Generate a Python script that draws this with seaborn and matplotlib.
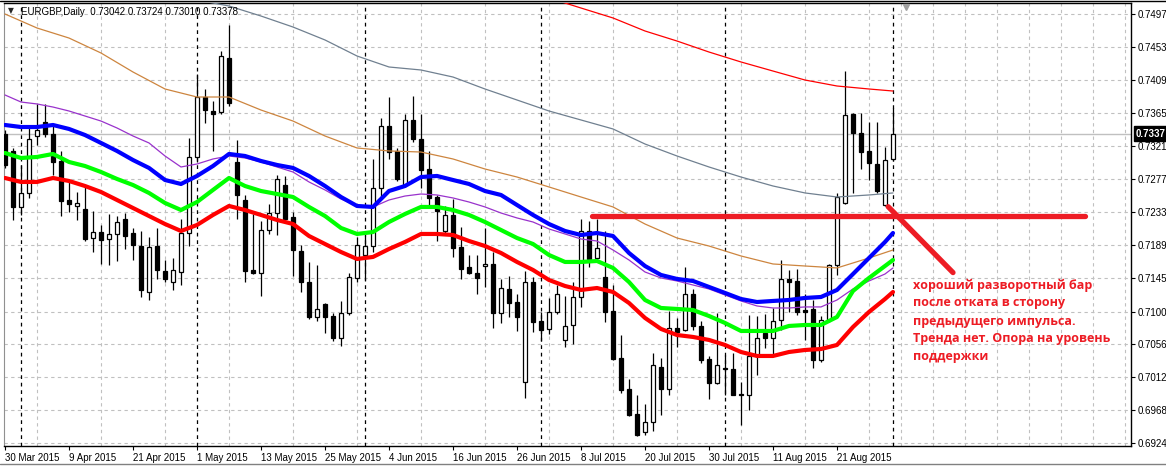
import numpy as np
import pandas as pd
import matplotlib
matplotlib.use("Agg")
import matplotlib.pyplot as plt
import matplotlib.transforms as mtransforms
from matplotlib.lines import Line2D
import seaborn as sns

sns.set_style("white")
plt.rcParams["font.family"] = ["Liberation Sans", "DejaVu Sans"]

# ---------------- data ----------------
symbol_title = "EURGBP,Daily  0.73042 0.73724 0.73010 0.73378"
dates = pd.bdate_range("2015-03-30", periods=112)

opens = [0.7337, 0.7314, 0.7240, 0.7259, 0.7334, 0.7353, 0.7337, 0.7301, 0.7249, 0.7241,
         0.7237, 0.7198, 0.7206, 0.7197, 0.7203, 0.7224, 0.7205, 0.7188, 0.7126, 0.7188,
         0.7154, 0.7139, 0.7153, 0.7205, 0.7306, 0.7386, 0.7368, 0.7366, 0.7439, 0.7300,
         0.7249, 0.7156, 0.7152, 0.7209, 0.7231, 0.7269, 0.7226, 0.7181, 0.7139, 0.7092,
         0.7110, 0.7094, 0.7065, 0.7098, 0.7145, 0.7176, 0.7188, 0.7265, 0.7348, 0.7314,
         0.7269, 0.7356, 0.7331, 0.7290, 0.7253, 0.7208, 0.7229, 0.7186, 0.7159, 0.7152,
         0.7161, 0.7164, 0.7098, 0.7130, 0.7113, 0.7006, 0.7140, 0.7087, 0.7077, 0.7099,
         0.7062, 0.7082, 0.7119, 0.7208, 0.7172, 0.7146, 0.7101, 0.7038, 0.6996, 0.6963,
         0.6939, 0.6952, 0.7026, 0.6997, 0.7078, 0.7075, 0.7124, 0.7081, 0.7037, 0.7005,
         0.7025, 0.7023, 0.6990, 0.6988, 0.7042, 0.7071, 0.7064, 0.7089, 0.7144, 0.7141,
         0.7102, 0.7103, 0.7035, 0.7089, 0.7162, 0.7245, 0.7364, 0.7339, 0.7314, 0.7297,
         0.7242, 0.73042]
highs = [0.7343, 0.7319, 0.7296, 0.7349, 0.7377, 0.7377, 0.7349, 0.7314, 0.7273, 0.7260,
         0.7269, 0.7234, 0.7216, 0.7230, 0.7228, 0.7231, 0.7211, 0.7207, 0.7199, 0.7211,
         0.7169, 0.7171, 0.7224, 0.7332, 0.7418, 0.7397, 0.7381, 0.7448, 0.7483, 0.7329,
         0.7256, 0.7230, 0.7221, 0.7243, 0.7282, 0.7281, 0.7233, 0.7189, 0.7166, 0.7162,
         0.7111, 0.7098, 0.7114, 0.7152, 0.7200, 0.7202, 0.7304, 0.7358, 0.7386, 0.7319,
         0.7364, 0.7388, 0.7364, 0.7314, 0.7255, 0.7241, 0.7250, 0.7213, 0.7176, 0.7175,
         0.7211, 0.7180, 0.7143, 0.7147, 0.7124, 0.7154, 0.7146, 0.7099, 0.7118, 0.7135,
         0.7121, 0.7140, 0.7224, 0.7221, 0.7224, 0.7207, 0.7136, 0.7068, 0.7010, 0.6989,
         0.6977, 0.7044, 0.7038, 0.7101, 0.7091, 0.7159, 0.7130, 0.7087, 0.7040, 0.7098,
         0.7042, 0.7044, 0.7006, 0.7095, 0.7094, 0.7097, 0.7105, 0.7169, 0.7156, 0.7157,
         0.7123, 0.7115, 0.7094, 0.7164, 0.7258, 0.7421, 0.7365, 0.7365, 0.7353, 0.7353,
         0.7320, 0.73724]
lows = [0.7292, 0.7222, 0.7229, 0.7251, 0.7323, 0.7333, 0.7282, 0.7227, 0.7233, 0.7222,
        0.7194, 0.7180, 0.7164, 0.7162, 0.7168, 0.7184, 0.7169, 0.7120, 0.7115, 0.7144,
        0.7140, 0.7129, 0.7135, 0.7187, 0.7300, 0.7352, 0.7314, 0.7364, 0.7374, 0.7224,
        0.7140, 0.7150, 0.7121, 0.7203, 0.7202, 0.7220, 0.7148, 0.7126, 0.7090, 0.7087,
        0.7071, 0.7060, 0.7054, 0.7095, 0.7140, 0.7142, 0.7179, 0.7251, 0.7304, 0.7274,
        0.7267, 0.7327, 0.7265, 0.7240, 0.7194, 0.7202, 0.7173, 0.7144, 0.7150, 0.7124,
        0.7133, 0.7078, 0.7084, 0.7093, 0.7074, 0.6985, 0.7072, 0.7061, 0.7070, 0.7096,
        0.7053, 0.7056, 0.7106, 0.7160, 0.7169, 0.7086, 0.7035, 0.6991, 0.6960, 0.6934,
        0.6935, 0.6940, 0.6962, 0.6988, 0.7052, 0.7074, 0.7075, 0.7031, 0.6983, 0.7003,
        0.6989, 0.6988, 0.6949, 0.6968, 0.7015, 0.7051, 0.7042, 0.7075, 0.7100, 0.7095,
        0.7062, 0.7025, 0.7033, 0.7086, 0.7149, 0.7244, 0.7258, 0.7290, 0.7276, 0.7258,
        0.7241, 0.73010]
closes = [0.7296, 0.7240, 0.7259, 0.7331, 0.7343, 0.7337, 0.7300, 0.7248, 0.7243, 0.7245,
          0.7197, 0.7206, 0.7196, 0.7203, 0.7219, 0.7201, 0.7189, 0.7129, 0.7186, 0.7155,
          0.7144, 0.7155, 0.7205, 0.7306, 0.7387, 0.7369, 0.7364, 0.7441, 0.7378, 0.7256,
          0.7154, 0.7151, 0.7209, 0.7231, 0.7277, 0.7224, 0.7182, 0.7139, 0.7092, 0.7104,
          0.7093, 0.7065, 0.7098, 0.7146, 0.7189, 0.7188, 0.7265, 0.7348, 0.7313, 0.7277,
          0.7356, 0.7331, 0.7289, 0.7252, 0.7234, 0.7229, 0.7185, 0.7157, 0.7151, 0.7145,
          0.7164, 0.7098, 0.7131, 0.7112, 0.7093, 0.7139, 0.7086, 0.7075, 0.7099, 0.7124,
          0.7081, 0.7119, 0.7208, 0.7170, 0.7185, 0.7100, 0.7037, 0.6995, 0.6962, 0.6935,
          0.6952, 0.7028, 0.6997, 0.7078, 0.7073, 0.7123, 0.7080, 0.7035, 0.7005, 0.7029,
          0.7023, 0.6989, 0.6988, 0.7041, 0.7065, 0.7064, 0.7087, 0.7144, 0.7140, 0.7099,
          0.7100, 0.7035, 0.7089, 0.7162, 0.7253, 0.7363, 0.7339, 0.7313, 0.7298, 0.7261,
          0.7302, 0.73378]

# fast moving averages every 2 bars (bar index -> value)
fast_idx = list(range(0, 111, 2)) + [111]
ma_blue = [0.73492, 0.73465, 0.73465, 0.73492, 0.73439, 0.73358, 0.73252, 0.73145, 0.73024, 0.72918,
           0.72757, 0.72704, 0.72811, 0.72944, 0.73105, 0.73078, 0.73011, 0.72958, 0.72918, 0.72811,
           0.72677, 0.72530, 0.72410, 0.72397, 0.72610, 0.72677, 0.72797, 0.72811, 0.72757, 0.72704,
           0.72610, 0.72557, 0.72423, 0.72290, 0.72169, 0.72076, 0.72022, 0.72049, 0.72009, 0.71782,
           0.71608, 0.71488, 0.71435, 0.71408, 0.71328, 0.71248, 0.71167, 0.71127, 0.71141, 0.71154,
           0.71181, 0.71194, 0.71288, 0.71501, 0.71715, 0.71929, 0.72049]
ma_green = [0.73118, 0.73051, 0.73065, 0.73105, 0.72998, 0.72944, 0.72864, 0.72771, 0.72690, 0.72584,
            0.72450, 0.72356, 0.72463, 0.72624, 0.72784, 0.72677, 0.72610, 0.72570, 0.72530, 0.72397,
            0.72276, 0.72116, 0.72036, 0.72062, 0.72196, 0.72303, 0.72397, 0.72397, 0.72356, 0.72290,
            0.72196, 0.72089, 0.71982, 0.71902, 0.71755, 0.71662, 0.71662, 0.71675, 0.71582, 0.71394,
            0.71154, 0.71047, 0.71034, 0.71020, 0.70940, 0.70847, 0.70740, 0.70740, 0.70740, 0.70807,
            0.70820, 0.70820, 0.70927, 0.71274, 0.71448, 0.71608, 0.71688]
ma_red = [0.72784, 0.72731, 0.72731, 0.72784, 0.72744, 0.72677, 0.72597, 0.72490, 0.72383, 0.72276,
          0.72169, 0.72076, 0.72156, 0.72290, 0.72410, 0.72356, 0.72290, 0.72223, 0.72169, 0.72009,
          0.71902, 0.71795, 0.71702, 0.71729, 0.71835, 0.71929, 0.72036, 0.72036, 0.72022, 0.71942,
          0.71875, 0.71782, 0.71662, 0.71555, 0.71421, 0.71341, 0.71288, 0.71314, 0.71261, 0.71114,
          0.70914, 0.70767, 0.70686, 0.70660, 0.70620, 0.70553, 0.70459, 0.70406, 0.70406, 0.70459,
          0.70486, 0.70499, 0.70553, 0.70793, 0.70994, 0.71167, 0.71261]
ma_purple = [0.73893, 0.73799, 0.73773, 0.73732, 0.73679, 0.73612, 0.73545, 0.73452, 0.73345, 0.73252,
             0.73078, 0.72931, 0.72971, 0.73038, 0.73078, 0.73051, 0.72998, 0.72931, 0.72864, 0.72731,
             0.72624, 0.72503, 0.72410, 0.72397, 0.72490, 0.72543, 0.72570, 0.72557, 0.72517, 0.72463,
             0.72397, 0.72316, 0.72250, 0.72196, 0.72103, 0.72036, 0.71969, 0.71942, 0.71822, 0.71688,
             0.71528, 0.71448, 0.71408, 0.71354, 0.71301, 0.71221, 0.71141, 0.71074, 0.71047, 0.71047,
             0.71061, 0.71061, 0.71154, 0.71301, 0.71408, 0.71501, 0.71582]

# slow moving averages every 4 bars
slow_idx = list(range(0, 109, 4)) + [111]
ma_orange = [0.74975, 0.74788, 0.74654, 0.74454, 0.74200, 0.73973, 0.73866, 0.73866, 0.73692, 0.73545,
             0.73345, 0.73185, 0.73145, 0.73131, 0.73038, 0.72904, 0.72797, 0.72664, 0.72530, 0.72397,
             0.72169, 0.71982, 0.71875, 0.71742, 0.71635, 0.71608, 0.71582, 0.71715, 0.71822]
gray_idx = list(range(20, 109, 4)) + [111]
ma_gray = [0.75296, 0.75162, 0.75082, 0.74948, 0.74801, 0.74628, 0.74414, 0.74267, 0.74227, 0.74133,
           0.73973, 0.73826, 0.73679, 0.73559, 0.73439, 0.73238, 0.73078, 0.72931, 0.72797, 0.72677,
           0.72584, 0.72530, 0.72557, 0.72584]
redthin_idx = list(range(68, 109, 4)) + [111]
ma_redthin = [0.75189, 0.75055, 0.74922, 0.74748, 0.74614, 0.74467, 0.74334, 0.74213, 0.74093, 0.74013,
              0.73973, 0.73946]

price_ticks = [0.6924, 0.6968, 0.7012, 0.7056, 0.7100, 0.7145, 0.7189, 0.7233, 0.7277,
               0.7321, 0.7365, 0.7409, 0.7453, 0.7497]
bid_price = 0.73378
bid_label = "0.7337"

# drawn annotation objects
support_level = 0.7227
support_span = [73.4, 135.0]
arrow_x = [110.4, 118.5]
arrow_y = [0.7240, 0.7152]
note_lines = ["хороший разворотный бар",
              "после отката в сторону",
              "предыдущего импульса.",
              "Тренда нет. Опора на уровень",
              "поддержки"]
note_x = 113.5
note_y = [0.71354, 0.71114, 0.70873, 0.70640, 0.70399]

# ---------------- figure ----------------
W, H = 1166, 467
fig = plt.figure(figsize=(W / 100, H / 100), dpi=100)
fig.patch.set_facecolor("white")
ax = fig.add_axes([4 / W, 1 - 446 / H, (1131 - 4) / W, (446 - 3) / H])
ax.set_facecolor("white")
ax.set_xlim(-0.125, 140.75)
ax.set_ylim(0.69203, 0.75122)

x = np.arange(len(dates))
o = np.array(opens); h = np.array(highs); l = np.array(lows); c = np.array(closes)
up = c >= o

# grid
ax.set_xticks(np.arange(0, 141, 4), minor=True)
ax.grid(which="minor", axis="x", color="#c0c0c0", ls=(0, (3, 3)), lw=0.8, zorder=0)
ax.set_yticks(price_ticks)
ax.grid(which="major", axis="y", color="#c0c0c0", ls=(0, (3, 3)), lw=0.8, zorder=0)
ax.grid(which="major", axis="x", visible=False)

# month separators
month_starts = np.flatnonzero(np.diff(dates.month) != 0) + 1
for m in month_starts:
    ax.axvline(m, color="black", ls=(0, (3, 3)), lw=0.9, zorder=1)

# bid line
ax.axhline(bid_price, color="#c0c0c0", lw=1.0, zorder=1.5)

# candles
ax.vlines(x, l, h, color="black", lw=0.9, zorder=3)
body_lo = np.minimum(o, c)
body_h = np.maximum(np.abs(c - o), 0.00004)
ax.bar(x, body_h, bottom=body_lo, width=0.6,
       color=np.where(up, "white", "black"), edgecolor="black", linewidth=0.9, zorder=4)

# moving averages
def ma_line(idx, vals, color, lw, z):
    df = pd.DataFrame({"bar": idx, "value": vals})
    sns.lineplot(data=df, x="bar", y="value", ax=ax, color=color, lw=lw,
                 zorder=z, estimator=None, sort=True)

ma_line(redthin_idx, ma_redthin, "#ff0000", 0.9, 5)
ma_line(gray_idx, ma_gray, "#708090", 0.9, 5)
ma_line(slow_idx, ma_orange, "#cd853f", 0.9, 5)
ma_line(fast_idx, ma_purple, "#9932cc", 0.9, 5)
ma_line(fast_idx, ma_red, "#ff0000", 3.0, 6)
ma_line(fast_idx, ma_green, "#00ff00", 3.0, 6)
ma_line(fast_idx, ma_blue, "#0000ff", 3.0, 6)
for ln in ax.get_lines():
    ln.set_solid_joinstyle("round")

# drawn objects
red_obj = "#ed1c24"
ax.plot(support_span, [support_level, support_level], color=red_obj, lw=3.8,
        solid_capstyle="round", zorder=8)
ax.plot(arrow_x, arrow_y, color=red_obj, lw=3.8, solid_capstyle="round", zorder=8)
for ty, line in zip(note_y, note_lines):
    ax.text(note_x, ty, line, color=red_obj, fontsize=9, fontweight="bold",
            family=["Open Sans", "DejaVu Sans"], ha="left", va="center", zorder=9)

# chart shift marker
tr_x = mtransforms.blended_transform_factory(ax.transData, ax.transAxes)
ax.plot([112.6], [0.99], marker="v", ms=5, color="#a0a0a0", transform=tr_x,
        clip_on=False, zorder=9)

# axes styling
ax.set_xlabel(""); ax.set_ylabel("")
xt = np.arange(0, len(dates), 8)
ax.set_xticks(xt)
ax.set_xticklabels([f"{d.day} {d:%b %Y}" for d in dates[xt]], ha="left")
ax.tick_params(axis="x", which="major", direction="out", length=3, width=0.8,
               pad=2, labelsize=7, colors="black", bottom=True)
ax.tick_params(axis="x", which="minor", length=0)
ax.yaxis.tick_right()
ax.set_yticklabels([f"{v:.4f}" for v in price_ticks])
ax.tick_params(axis="y", direction="out", length=3, width=0.8, pad=2,
               labelsize=7, colors="black", right=True, left=False)
for s in ["top", "bottom", "right"]:
    ax.spines[s].set_color("black"); ax.spines[s].set_linewidth(1.0)
ax.spines["left"].set_color("#909090")

# bid price box
tr_y = mtransforms.blended_transform_factory(ax.transAxes, ax.transData)
ax.text(1.0 + 5 / 1127, bid_price, bid_label, transform=tr_y, ha="left", va="center",
        color="white", fontsize=7, fontweight="bold",
        bbox=dict(boxstyle="square,pad=0.25", fc="black", ec="black"),
        zorder=10, clip_on=False)

# title
fig.text(8 / W, 1 - 11 / H, "▼", fontsize=5.5, family="DejaVu Sans", va="center", ha="left")
fig.text(21 / W, 1 - 12 / H, symbol_title, fontsize=7, va="center", ha="left", color="black")

# window lines
fig.add_artist(Line2D([0, 1], [1 - 0.5 / H] * 2, color="black", lw=1))
fig.add_artist(Line2D([0, 1], [1 - 464 / H] * 2, color="#808080", lw=1))

fig.savefig("out.png", dpi=100)
